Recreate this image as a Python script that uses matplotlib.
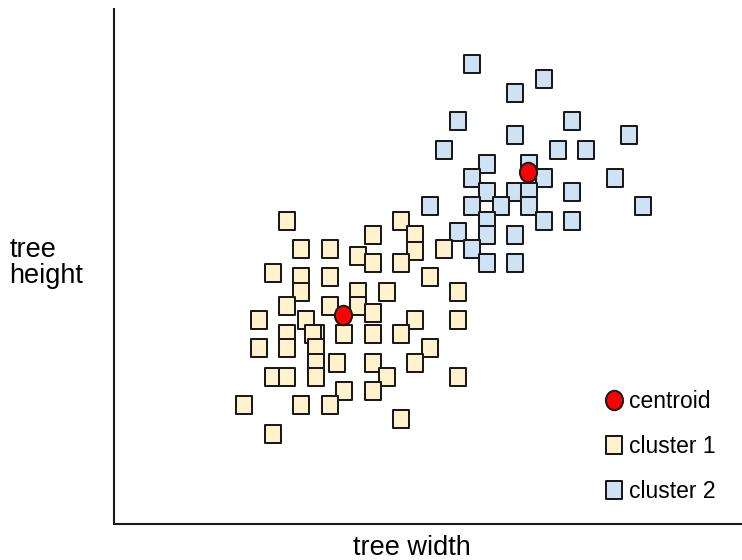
import numpy as np
import matplotlib
matplotlib.use('Agg')
import matplotlib.pyplot as plt
from matplotlib.path import Path
from matplotlib.lines import Line2D

plt.rcParams['font.family'] = ['Liberation Sans', 'DejaVu Sans']

# --- data (grid units) ---
cluster1_x = [12, 20, 18, 21, 13, 15, 21, 23, 17, 18, 20, 11, 13, 15, 22, 13, 17, 19, 24, 12,
              15, 17, 18, 10, 13.35, 21, 24, 12, 14, 13.85, 16, 18, 20, 10, 12, 14, 22, 14, 15.5, 18,
              21, 11, 12, 14, 19, 24, 16, 18, 9, 13, 15, 20, 11]
cluster1_y = [21, 21, 20, 20, 19, 19, 18.85, 19, 18.5, 18, 18, 17.3, 17, 17, 17, 16, 16, 16, 16, 15,
              15, 15, 14.5, 14, 14, 14, 14, 13, 13, 13, 13, 13, 13, 12, 12, 12, 12, 11, 11, 11,
              11, 10, 10, 10, 10, 10, 9, 9, 8, 8, 8, 7, 6]

cluster2_x = [25, 30, 28, 24, 32, 28, 36, 23, 31, 33, 26, 29, 25, 30, 35, 26, 28, 29, 32, 22,
              25, 27, 29, 37, 26, 30, 32, 24, 26, 28, 25, 26, 28]
cluster2_y = [32, 31, 30, 28, 28, 27, 27, 26, 26, 26, 25, 25, 24, 24, 24, 23, 23, 23, 23, 22,
              22, 22, 22, 22, 21, 21, 21, 20.2, 20, 20, 19, 18, 18]

centroid_x = [15.95, 28.93]
centroid_y = [14.33, 24.4]

labels = ['centroid', 'cluster 1', 'cluster 2']

# --- marker shapes: slightly tall rectangle and ellipse ---
rect = Path([(-0.41, -0.5), (0.41, -0.5), (0.41, 0.5), (-0.41, 0.5), (-0.41, -0.5)],
            [Path.MOVETO, Path.LINETO, Path.LINETO, Path.LINETO, Path.CLOSEPOLY])
circ = Path.unit_circle()
ellipse = Path(circ.vertices * np.array([0.88, 1.0]), circ.codes)

edge = '#1a1a1a'
c1_style = dict(ls='none', marker=rect, ms=13.5, mfc='#fff2cc', mec=edge, mew=1.45)
c2_style = dict(ls='none', marker=rect, ms=13.5, mfc='#cfe2f3', mec=edge, mew=1.45)
cen_style = dict(ls='none', marker=ellipse, ms=14, mfc='#ff0000', mec=edge, mew=1.45)

fig = plt.figure(figsize=(7.42, 5.6), dpi=100)
ax = fig.add_axes([113.5 / 742, 36 / 560, 628.5 / 742, 514.5 / 560])

ax.plot(cluster2_x, cluster2_y, **c2_style)
ax.plot(cluster1_x, cluster1_y, **c1_style)
ax.plot(centroid_x, centroid_y, **cen_style)

ax.set_xlim(-0.18, 43.93)
ax.set_ylim(-0.37, 35.86)
ax.set_xticks([])
ax.set_yticks([])
ax.spines['top'].set_visible(False)
ax.spines['right'].set_visible(False)
for s in ['left', 'bottom']:
    ax.spines[s].set_linewidth(1.5)
    ax.spines[s].set_color(edge)

handles = [Line2D([], [], **cen_style), Line2D([], [], **c1_style), Line2D([], [], **c2_style)]
ax.legend(handles, labels, loc='upper left', bbox_to_anchor=(605 / 742, (560 - 390) / 560),
          bbox_transform=fig.transFigure, frameon=False, fontsize=16.5, handlelength=0.8,
          handletextpad=0.25, labelspacing=0.97, borderpad=0, borderaxespad=0, numpoints=1)

fig.text(412 / 742, (560 - 555) / 560, 'tree width', fontsize=19.5, ha='center', va='baseline')
fig.text(9.5 / 742, (560 - 256.7) / 560, 'tree', fontsize=19.5, ha='left', va='baseline')
fig.text(9.5 / 742, (560 - 282.7) / 560, 'height', fontsize=19.5, ha='left', va='baseline')

fig.savefig('out.png', dpi=100)
